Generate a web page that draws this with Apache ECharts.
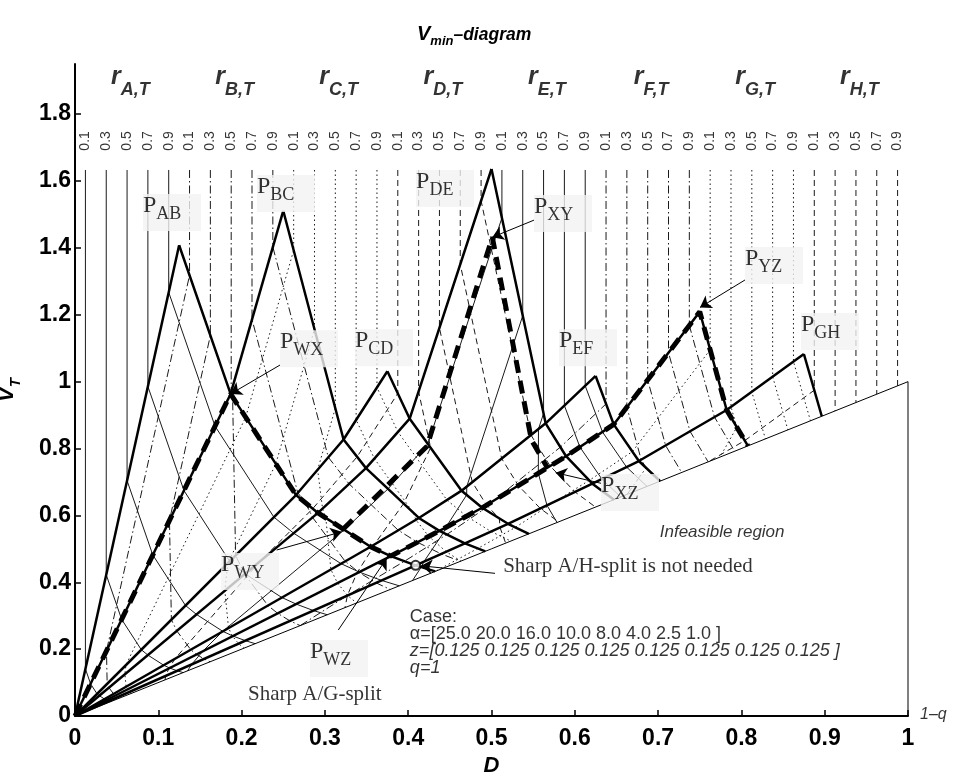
<!DOCTYPE html>
<html>
<head>
<meta charset="utf-8">
<script src="https://cdn.jsdelivr.net/npm/echarts@6/dist/echarts.min.js"></script>
<style>
html,body{margin:0;padding:0;background:#fff;}
#main{width:953px;height:776px;}
</style>
</head>
<body>
<div id="main"></div>
<script>
// feed: 8 components, equal z
var zFeed = 0.125;
var groups = ['A','B','C','D','E','F','G','H'];
var rTicks = [0.1, 0.3, 0.5, 0.7, 0.9];

// right legs of the diagram, one per top key component (D, V)
// first point is the sharp split peak, last point sits on the V=D line
var legA = [[0.125,1.408],[0.1868,0.9632],[0.2653,0.6608],[0.2917,0.6074],[0.3549,0.5062],[0.3791,0.4783],[0.4089,0.4506],[0.4325,0.4325]];
var legB = [[0.25,1.511],[0.3224,0.8271],[0.3493,0.7414],[0.4128,0.5923],[0.4375,0.5538],[0.4681,0.5165],[0.4926,0.4926]];
var legC = [[0.375,1.031],[0.4018,0.8892],[0.4641,0.6739],[0.4888,0.6228],[0.5198,0.5748],[0.5448,0.5448]];
var legD = [[0.5,1.636],[0.565,0.8754],[0.5895,0.7769],[0.6211,0.6947],[0.6471,0.6471]];
var legE = [[0.625,1.017],[0.6467,0.8721],[0.6769,0.7626],[0.7024,0.7024]];
var legF = [[0.75,1.209],[0.7823,0.9152],[0.8078,0.8078]];
var legG = [[0.875,1.0826],[0.8965,0.8965]];
var legs = [legA, legB, legC, legD, legE, legF, legG];

// r_{X,T} lines: vertical from the top down to the diagram, then on inside
var rLineTop = 1.633;
var rLinesA = [
  [[0.0125,0.1408],[0.0187,0.0963],[0.0265,0.0661],[0.0292,0.0607],[0.0355,0.0506],[0.0379,0.0478],[0.0409,0.0451],[0.0433,0.0433]],
  [[0.0375,0.4224],[0.056,0.289],[0.0796,0.1982],[0.0875,0.1822],[0.1065,0.1519],[0.1137,0.1435],[0.1227,0.1352],[0.1298,0.1298]],
  [[0.0625,0.704],[0.0934,0.4816],[0.1327,0.3304],[0.1459,0.3037],[0.1775,0.2531],[0.1896,0.2392],[0.2045,0.2253],[0.2163,0.2163]],
  [[0.0875,0.9856],[0.1308,0.6742],[0.1857,0.4626],[0.2042,0.4252],[0.2484,0.3543],[0.2654,0.3348],[0.2862,0.3154],[0.3028,0.3028]],
  [[0.1125,1.2672],[0.1681,0.8669],[0.2388,0.5947],[0.2625,0.5467],[0.3194,0.4556],[0.3412,0.4305],[0.368,0.4055],[0.3893,0.3893]]
];
var rLinesB = [
  [[0.1375,1.318],[0.0378,0.195],[0.0386,0.096],[0.0407,0.0849],[0.0463,0.0661],[0.0487,0.0614],[0.0516,0.0569],[0.0541,0.0541]],
  [[0.1625,1.138],[0.1134,0.585],[0.1157,0.2881],[0.1222,0.2545],[0.139,0.1982],[0.146,0.1842],[0.1549,0.1707],[0.1622,0.1622]],
  [[0.1875,0.969],[0.1892,0.9538],[0.1928,0.4802],[0.2037,0.4241],[0.2316,0.3304],[0.2433,0.307],[0.2581,0.2845],[0.2703,0.2703]],
  [[0.2125,1.1862],[0.2675,0.6672],[0.2766,0.6379],[0.2852,0.5939],[0.3243,0.4626],[0.3407,0.4298],[0.3614,0.3982],[0.3784,0.3784]],
  [[0.2375,1.4028],[0.3041,0.7738],[0.329,0.6942],[0.3881,0.5555],[0.4111,0.5196],[0.4396,0.4848],[0.4626,0.4626]]
];
var rLinesC = [
  [[0.2625,1.3929],[0.2049,0.8935],[0.0611,0.1523],[0.0599,0.1248],[0.0614,0.0876],[0.063,0.0795],[0.0654,0.0721],[0.0676,0.0676]],
  [[0.2875,1.1567],[0.2411,0.7542],[0.1834,0.4567],[0.1799,0.3745],[0.1843,0.2629],[0.1891,0.2385],[0.1964,0.2164],[0.2028,0.2028]],
  [[0.3125,0.9205],[0.2913,0.7365],[0.2972,0.6201],[0.3011,0.5924],[0.3072,0.4381],[0.3151,0.3975],[0.3272,0.3606],[0.338,0.338]],
  [[0.3375,0.8857],[0.3594,0.7697],[0.4062,0.6077],[0.4092,0.5869],[0.4247,0.5372],[0.4456,0.4915],[0.4632,0.4632]],
  [[0.3625,0.9826],[0.3877,0.8494],[0.4465,0.6459],[0.47,0.5975],[0.4994,0.5518],[0.5232,0.5232]]
];
var rLinesD = [
  [[0.3875,0.9648],[0.3387,0.7753],[0.2854,0.6201],[0.2222,0.4626],[0.1201,0.1713],[0.1127,0.1422],[0.109,0.1201],[0.108,0.108]],
  [[0.4125,0.9708],[0.4269,0.8024],[0.3945,0.6353],[0.3593,0.5128],[0.3576,0.5031],[0.3382,0.4267],[0.327,0.3603],[0.3241,0.3241]],
  [[0.4375,1.1609],[0.4769,0.6995],[0.494,0.6308],[0.5094,0.5909],[0.5102,0.564],[0.517,0.517]],
  [[0.4625,1.3509],[0.5122,0.7699],[0.5322,0.6892],[0.5586,0.6207],[0.5805,0.5805]],
  [[0.4875,1.541],[0.5474,0.8402],[0.5704,0.7477],[0.6003,0.67],[0.6249,0.6249]]
];
var rLinesE = [
  [[0.5125,1.4897],[0.4236,0.8138],[0.3758,0.6792],[0.3232,0.5569],[0.177,0.2525],[0.1532,0.1932],[0.1401,0.1544],[0.1351,0.1351]],
  [[0.5375,1.1972],[0.4703,0.6862],[0.4702,0.6612],[0.4452,0.5641],[0.4423,0.548],[0.4188,0.4616],[0.4157,0.4454],[0.4052,0.4052]],
  [[0.5625,0.9047],[0.5564,0.8582],[0.5562,0.726],[0.5666,0.6302],[0.5787,0.5787]],
  [[0.5875,0.9285],[0.6061,0.8045],[0.6325,0.7086],[0.6552,0.6552]],
  [[0.6125,0.9875],[0.6332,0.8496],[0.6621,0.7446],[0.6867,0.6867]]
];
var rLinesF = [
  [[0.6375,0.9334],[0.5827,0.8042],[0.502,0.643],[0.4913,0.619],[0.4465,0.5429],[0.3956,0.463],[0.3271,0.3605],[0.2703,0.2703]],
  [[0.6625,0.9237],[0.6797,0.7667],[0.6856,0.7421],[0.6627,0.6627]],
  [[0.6875,1.0052],[0.709,0.8091],[0.7283,0.7283]],
  [[0.7125,1.0867],[0.7383,0.8515],[0.7601,0.7601]],
  [[0.7375,1.1682],[0.7677,0.894],[0.7919,0.7919]]
];
var rLinesG = [
  [[0.7625,1.0953],[0.6691,0.7908],[0.6173,0.7045],[0.5761,0.6414],[0.5287,0.5642],[0.4837,0.5013],[0.4325,0.4325]],
  [[0.7875,0.9246],[0.7945,0.8638],[0.7742,0.7742]],
  [[0.8125,0.9697],[0.8288,0.8288]],
  [[0.8375,1.0149],[0.8558,0.8558]],
  [[0.8625,1.06],[0.8829,0.8829]]
];
var rLinesH = [
  [[0.8875,0.9744],[0.804,0.8236],[0.7603,0.7603]],
  [[0.9125,0.9125]],
  [[0.9375,0.9375]],
  [[0.9625,0.9625]],
  [[0.9875,0.9875]]
];
var rLines = [rLinesA, rLinesB, rLinesC, rLinesD, rLinesE, rLinesF, rLinesG, rLinesH];

// W/X/Y/Z products
var pWY = [0.322,0.559];
var pXY = [0.501,1.432];
var pXZ = [0.567,0.743];
var xyLow = [0.4226,0.807];
var xyHigh = [0.548,0.825];

var xMin = 0, xMax = 1, yMin = 0, yMax = 1.95;

// annotation layout (not data)
var pBoxes = [
  ['AB',[0.0816,1.561]],['BC',[0.2185,1.618]],['DE',[0.4094,1.633]],['XY',[0.551,1.558]],
  ['CD',[0.3361,1.157]],['EF',[0.581,1.157]],['WX',[0.2461,1.154]],['YZ',[0.8043,1.4025]],
  ['GH',[0.8715,1.205]],['XZ',[0.6315,0.7237]],['WY',[0.1753,0.4874]],['WZ',[0.2821,0.2273]]
];
var arrows = [
  [[0.2461,1.0496], legA[1]],
  [[0.551,1.483], pXY],
  [[0.8043,1.304], [0.7503,1.222]],
  [[0.6315,0.696], [0.577,0.7276]],
  [[0.2421,0.4964], [0.3202,0.551]],
  [[0.3161,0.2572], [0.3742,0.4716]],
  [[0.5042,0.4267], [0.4155,0.4492]]
];

var chart = echarts.init(document.getElementById('main'));
var series = [];

function addLine(data, width, type, z, color) {
  series.push({
    type: 'line', data: data, symbol: 'none', silent: true, animation: false,
    lineStyle: {color: color || '#000', width: width, type: type || 'solid', cap: 'butt'},
    z: z || 2
  });
}

// line style per component group: solid, dash-dot, dotted, dashed
var groupDash = ['solid', [8,3,1.5,3], [1.5,3], [6,4], 'solid', [8,3,1.5,3], [1.5,3], [6,4]];

// r lines
for (var g = 0; g < 8; g++) {
  for (var k = 0; k < rTicks.length; k++) {
    var x = (g + rTicks[k]) * zFeed;
    addLine([[x, rLineTop]].concat(rLines[g][k]), 1, groupDash[g], 1, '#1a1a1a');
  }
}

// rays from the origin
for (var m = 0; m < 7; m++) addLine([[0,0], legA[m]], 2.5, 'solid', 2);
// right legs
legs.forEach(function (l) { addLine(l, 2.5, 'solid', 2); });
// left legs
for (var j = 2; j <= 7; j++) {
  var ch = [];
  for (var i = 0; i < j; i++) ch.push(legs[i][j - i - 1]);
  addLine(ch, 2.5, 'solid', 2);
}
// feasibility boundary
addLine([[0,0],[1,1]], 1, 'solid', 2);
addLine([[1,0],[1,1]], 1, 'solid', 2);

// Vmin path for W/X/Y/Z
addLine([[0,0], legA[1], legA[2], legA[3], legA[4], legA[5], legB[4], legC[3], legD[2], legE[1], legF[0], legF[1], legF[2]], 5, [13,8], 3);
addLine([pWY, xyLow, pXY, xyHigh, pXZ], 5, [13,8], 3);

// arrows
series.push({
  type: 'lines', coordinateSystem: 'cartesian2d', silent: true, animation: false, z: 4,
  symbol: ['none', 'arrow'], symbolSize: 11,
  lineStyle: {color: '#000', width: 1, opacity: 1},
  data: arrows.map(function (a) { return {coords: a}; })
});

// sharp A/H split marker
series.push({
  type: 'scatter', symbol: 'emptyCircle', symbolSize: 9, silent: true, z: 4,
  itemStyle: {color: '#000', borderColor: '#000', borderWidth: 1},
  data: [legA[6]]
});

// P labels
series.push({
  type: 'scatter', symbolSize: 0, silent: true, z: 6, clip: false,
  data: pBoxes.map(function (b) { return {name: b[0], value: b[1]}; }),
  label: {
    show: true, position: [0, 0], width: 58, height: 37, padding: 0,
    align: 'left', verticalAlign: 'top',
    backgroundColor: '#f3f3f3',
    formatter: function (p) { return '{p|P}{s|' + p.name + '}'; },
    rich: {
      p: {fontFamily: 'Liberation Serif', fontSize: 24, color: '#000', verticalAlign: 'top'},
      s: {fontFamily: 'Liberation Serif', fontSize: 18, color: '#000', verticalAlign: 'top', padding: [11, 0, 0, 0]}
    }
  }
});

// free text
var texts = [
  {value: [0.514, 0.446], t: 'Sharp A/H-split is not needed', s: {fontFamily: 'Liberation Serif', fontSize: 21}},
  {value: [0.2077, 0.0658], t: 'Sharp A/G-split', s: {fontFamily: 'Liberation Serif', fontSize: 21}},
  {value: [0.702, 0.550], t: 'Infeasible region', s: {fontFamily: 'Liberation Sans', fontSize: 17, fontStyle: 'italic'}},
  {value: [0.402, 0.296], t: 'Case:', s: {fontFamily: 'Liberation Sans', fontSize: 18}},
  {value: [0.402, 0.245], t: '\u03b1=[25.0 20.0 16.0 10.0 8.0 4.0 2.5 1.0 ]', s: {fontFamily: 'Liberation Sans', fontSize: 18}},
  {value: [0.402, 0.194], t: 'z=[0.125 0.125 0.125 0.125 0.125 0.125 0.125 0.125 ]', s: {fontFamily: 'Liberation Sans', fontSize: 18, fontStyle: 'italic'}},
  {value: [0.402, 0.1435], t: 'q=1', s: {fontFamily: 'Liberation Sans', fontSize: 18, fontStyle: 'italic'}},
  {value: [1.0144, 0.003], t: '1\u2013q', s: {fontFamily: 'Liberation Sans', fontSize: 16, fontStyle: 'italic'}}
];
texts.forEach(function (t) {
  series.push({
    type: 'scatter', symbolSize: 0, silent: true, z: 6, clip: false,
    data: [t.value],
    label: Object.assign({show: true, position: [0, 0], align: 'left', verticalAlign: 'middle', color: '#000', formatter: t.t}, t.s)
  });
});

// top tick labels (r values)
var tickData = [];
for (var g2 = 0; g2 < 8; g2++) {
  rTicks.forEach(function (r) { tickData.push({value: [(g2 + r) * zFeed, 1.72], r: r}); });
}
series.push({
  type: 'scatter', symbolSize: 0, silent: true, z: 6,
  data: tickData,
  label: {
    show: true, position: 'inside', rotate: 90, color: '#000',
    fontFamily: 'Liberation Sans', fontSize: 14,
    formatter: function (p) { return p.data.r.toFixed(1); }
  }
});

// group labels r_{X,T}
series.push({
  type: 'scatter', symbolSize: 0, silent: true, z: 6,
  data: groups.map(function (gName, gi) { return {value: [(gi + 0.5) * zFeed + 0.004, 1.897], name: gName}; }),
  label: {
    show: true, position: 'inside', color: '#000',
    formatter: function (p) { return '{r|r}{s|' + p.name + ',T}'; },
    rich: {
      r: {fontFamily: 'Liberation Sans', fontWeight: 'bold', fontStyle: 'italic', fontSize: 25, verticalAlign: 'top'},
      s: {fontFamily: 'Liberation Sans', fontWeight: 'bold', fontStyle: 'italic', fontSize: 18, verticalAlign: 'top', padding: [16, 0, 0, 0]}
    }
  }
});

var tickFmt = function (v) {
  if (Math.abs(v) < 1e-9) return '0';
  if (Math.abs(v - 1) < 1e-9) return '1';
  return v.toFixed(1);
};

var boldItalic = {fontFamily: 'Liberation Sans', fontWeight: 'bold', fontStyle: 'italic', color: '#000', verticalAlign: 'top'};

chart.setOption({
  animation: false,
  backgroundColor: '#fff',
  title: {
    text: '{v|V}{s|min}{d|\u2013diagram}',
    left: 417, top: 24, padding: 0,
    textStyle: {
      rich: {
        v: Object.assign({fontSize: 20}, boldItalic),
        s: Object.assign({fontSize: 13, padding: [11, 0, 0, 0]}, boldItalic),
        d: Object.assign({fontSize: 17.5, padding: [2, 0, 0, 0]}, boldItalic)
      }
    }
  },
  grid: {left: 75, right: 45, top: 64, bottom: 60, containLabel: false, outerBoundsMode: 'none'},
  xAxis: {
    type: 'value', min: xMin, max: xMax, interval: 0.1,
    name: 'D', nameLocation: 'middle', nameGap: 36,
    nameTextStyle: {fontFamily: 'Liberation Sans', fontWeight: 'bold', fontStyle: 'italic', fontSize: 22, color: '#000'},
    axisLine: {lineStyle: {color: '#000', width: 2}},
    axisTick: {inside: true, length: 6, lineStyle: {color: '#000', width: 1.5}},
    splitLine: {show: false},
    axisLabel: {fontFamily: 'Liberation Sans', fontWeight: 'bold', fontSize: 23, color: '#000', margin: 11, formatter: tickFmt}
  },
  yAxis: {
    type: 'value', min: yMin, max: yMax, interval: 0.2,
    name: '{v|V}{s|T}', nameLocation: 'middle', nameGap: 52, nameRotate: 90,
    nameTextStyle: {
      rich: {
        v: Object.assign({fontSize: 22}, boldItalic),
        s: Object.assign({fontSize: 15, padding: [12, 0, 0, 0]}, boldItalic)
      }
    },
    axisLine: {show: true, lineStyle: {color: '#000', width: 2}},
    axisTick: {show: true, inside: true, length: 6, lineStyle: {color: '#000', width: 1.5}},
    splitLine: {show: false},
    axisLabel: {fontFamily: 'Liberation Sans', fontWeight: 'bold', fontSize: 23, color: '#000', margin: 4, showMaxLabel: false, formatter: tickFmt}
  },
  series: series
});
</script>
</body>
</html>
